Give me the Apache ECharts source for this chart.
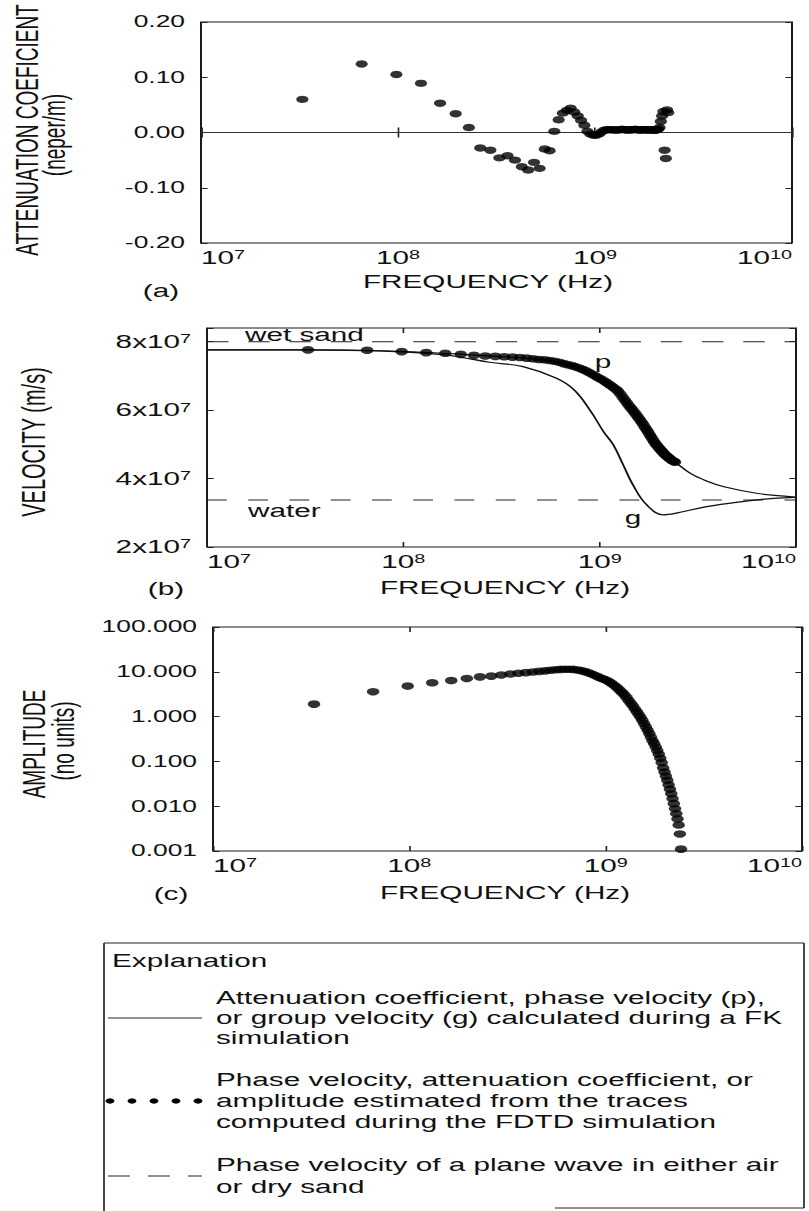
<!DOCTYPE html>
<html>
<head>
<meta charset="utf-8">
<script src="https://cdn.jsdelivr.net/npm/echarts@6/dist/echarts.min.js"></script>
<style>
html,body{margin:0;padding:0;background:#fff;overflow:hidden;}
#wrap{width:809px;height:1211px;overflow:hidden;position:relative;background:#fff;}
#chart{position:absolute;left:0;top:0;height:1211px;transform-origin:0 0;}
</style>
</head>
<body>
<div id="wrap"><div id="chart"></div></div>
<script>
// ---------------- data ----------------
// FDTD sample frequencies (MHz)
const freqMHz = [
  32.7, 65.4, 98.1, 130.8, 163.5, 196.2, 228.9, 261.6, 294.3, 327.0,
  359.7, 392.4, 425.1, 457.8, 490.5, 523.2, 555.9, 588.6, 621.3, 654.0,
  686.7, 719.4, 752.1, 784.8, 817.5, 850.2, 882.9, 915.6, 948.3, 981.0,
  1013.7, 1046.4, 1079.1, 1111.8, 1144.5, 1177.2, 1209.9, 1242.6, 1275.3, 1308.0,
  1340.7, 1373.4, 1406.1, 1438.8, 1471.5, 1504.2, 1536.9, 1569.6, 1602.3, 1635.0,
  1667.7, 1700.4, 1733.1, 1765.8, 1798.5, 1831.2, 1863.9, 1896.6, 1929.3, 1962.0,
  1994.7, 2027.4, 2060.1, 2092.8, 2125.5, 2158.2, 2190.9, 2223.6, 2256.3, 2289.0,
  2321.7, 2354.4, 2387.1, 2419.8
];
// (a) attenuation coefficient estimated from FDTD traces (neper/m)
const attenuationFDTD = [
  0.060, 0.124, 0.105, 0.089, 0.053, 0.034, 0.009, -0.028, -0.032, -0.046,
  -0.042, -0.050, -0.062, -0.068, -0.054, -0.065, -0.030, -0.033, 0.002, 0.023,
  0.035, 0.040, 0.044, 0.037, 0.030, 0.022, 0.013, 0.002, -0.003, -0.005,
  -0.005, -0.003, 0.001, 0.004, 0.005, 0.005, 0.005, 0.005, 0.004, 0.005,
  0.005, 0.006, 0.005, 0.005, 0.004, 0.005, 0.005, 0.005, 0.006, 0.005,
  0.005, 0.004, 0.005, 0.005, 0.005, 0.005, 0.004, 0.005, 0.005, 0.005,
  0.004, 0.004, 0.005, 0.006, 0.009, 0.020, 0.030, 0.038, -0.032, -0.047,
  0.041, 0.036, null, null
];
// (a) FK attenuation coefficient
const fkAttFreqMHz = [10, 10000];
const fkAttValue = [0, 0];
// (b) phase velocity from FDTD traces (x10^7 m/s)
const phaseVelFDTD = [
  7.76, 7.75, 7.71, 7.68, 7.66, 7.63, 7.60, 7.58, 7.57, 7.56,
  7.55, 7.54, 7.52, 7.50, 7.48, 7.47, 7.45, 7.43, 7.40, 7.36,
  7.33, 7.30, 7.27, 7.23, 7.19, 7.15, 7.10, 7.05, 7.00, 6.95,
  6.91, 6.86, 6.81, 6.76, 6.71, 6.66, 6.61, 6.55, 6.47, 6.38,
  6.30, 6.22, 6.14, 6.07, 6.00, 5.93, 5.86, 5.79, 5.72, 5.65,
  5.58, 5.50, 5.43, 5.36, 5.28, 5.21, 5.14, 5.07, 5.01, 4.96,
  4.91, 4.86, 4.82, 4.77, 4.73, 4.69, 4.66, 4.63, 4.60, 4.57,
  4.54, 4.52, 4.50, 4.48
];
// (b) FK phase velocity p (x10^7 m/s)
const fkPhaseFreqMHz = [10, 30, 60, 100, 150, 200, 300, 400, 500, 600, 700, 800, 900, 1000, 1200, 1400, 1600, 1800, 2000, 2200, 2420, 2900, 3500, 4300, 6300, 9300, 10000];
const fkPhaseVel = [7.76, 7.76, 7.75, 7.71, 7.67, 7.63, 7.57, 7.53, 7.49, 7.42, 7.33, 7.22, 7.08, 6.92, 6.61, 6.15, 5.72, 5.28, 4.91, 4.66, 4.48, 4.15, 3.93, 3.76, 3.57, 3.47, 3.45];
// (b) FK group velocity g (x10^7 m/s)
const fkGroupFreqMHz = [10, 32, 63, 100, 158, 190, 275, 407, 603, 741, 902, 1047, 1175, 1318, 1479, 1738, 2113, 2455, 3508, 5200, 7674, 10000];
const fkGroupVel = [7.76, 7.76, 7.74, 7.70, 7.62, 7.56, 7.40, 7.27, 6.93, 6.59, 5.96, 5.37, 4.98, 4.40, 3.81, 3.23, 2.94, 2.99, 3.18, 3.32, 3.42, 3.45];
// (b) plane-wave velocities (x10^7 m/s)
const wetSandVel = 8.0;
const waterVel = 3.37;
// (c) amplitude from FDTD traces (no units)
const amplitudeFDTD = [
  1.9, 3.6, 4.8, 5.7, 6.4, 7.1, 7.7, 8.0, 8.5, 8.9,
  9.3, 9.6, 9.9, 10.2, 10.5, 10.8, 11.1, 11.3, 11.4, 11.4,
  11.3, 11.0, 10.6, 10.1, 9.5, 8.9, 8.3, 7.7, 7.2, 6.8,
  6.4, 5.9, 5.4, 4.9, 4.4, 3.9, 3.5, 3.1, 2.7, 2.3,
  2.0, 1.75, 1.5, 1.3, 1.12, 0.97, 0.83, 0.70, 0.59, 0.50,
  0.42, 0.35, 0.29, 0.25, 0.21, 0.175, 0.145, 0.118, 0.094, 0.072,
  0.058, 0.047, 0.038, 0.030, 0.024, 0.019, 0.0148, 0.0114, 0.0088, 0.0068,
  0.0052, 0.0038, 0.0024, 0.0011
];
// axis ranges / ticks
const freqRangeHz = [1e7, 1e10];
const attTicks = [-0.2, -0.1, 0, 0.1, 0.2];
const velTicks = [2e7, 4e7, 6e7, 8e7];
const ampRange = [0.001, 100];

// ---------------- layout ----------------
const S = 1.65;               // horizontal stretch of the scanned figure
const X = v => v / S;
const fam = "'Liberation Sans', Arial, Helvetica, sans-serif";
const ink = '#111';

const el = document.getElementById('chart');
el.style.width = (809 / S) + 'px';
el.style.transform = 'scaleX(' + S + ')';
const chart = echarts.init(el, null, { renderer: 'svg' });

function pairs(xs, ys, xk, yk) {
  const out = [];
  for (let i = 0; i < xs.length; i++) {
    if (ys[i] == null) continue;
    out.push([xs[i] * xk, ys[i] * yk]);
  }
  return out;
}

const rich = {
  b: { fontSize: 18, fontFamily: fam, color: ink, lineHeight: 18, verticalAlign: 'bottom', padding: [6, 0, 0, 0] },
  s: { fontSize: 12, fontFamily: fam, color: ink, lineHeight: 12, verticalAlign: 'top' }
};

const gridBoxes = [
  { left: X(201), top: 22, width: X(792 - 201), height: 221 },
  { left: X(207), top: 328, width: X(796 - 207), height: 219 },
  { left: X(213), top: 627, width: X(802 - 213), height: 224 }
];
const grids = gridBoxes.map(g => Object.assign({
  show: true, borderColor: '#1a1a1a', borderWidth: 1.2, backgroundColor: 'transparent',
  containLabel: false, outerBoundsMode: 'none'
}, g));

function xAxes(gi) {
  const base = {
    type: 'log', logBase: 10, min: freqRangeHz[0], max: freqRangeHz[1], gridIndex: gi,
    axisLine: { show: false }, splitLine: { show: false }, minorTick: { show: false },
    axisTick: { show: true, inside: true, length: 5, lineStyle: { color: '#222', width: 1 } }
  };
  return [
    Object.assign({}, base, {
      position: 'bottom',
      axisLabel: {
        show: true, margin: 6, alignMinLabel: 'left', alignMaxLabel: 'right',
        formatter: v => '{b|10}{s|' + Math.round(Math.log10(v)) + '}', rich
      }
    }),
    Object.assign({}, base, { position: 'top', axisLabel: { show: false } })
  ];
}

function yPair(gi, cfg, labelCfg) {
  const base = Object.assign({
    gridIndex: gi, axisLine: { show: false }, splitLine: { show: false }, minorTick: { show: false },
    axisTick: { show: true, inside: true, length: 4, lineStyle: { color: '#222', width: 1 } }
  }, cfg);
  return [
    Object.assign({}, base, { position: 'left', axisLabel: Object.assign({ show: true, margin: X(16), color: ink, fontSize: 16, fontFamily: fam }, labelCfg) }),
    Object.assign({}, base, { position: 'right', axisLabel: { show: false } })
  ];
}

const yAxes = [].concat(
  yPair(0, { type: 'value', min: attTicks[0], max: attTicks[attTicks.length - 1], interval: 0.1 },
    { formatter: v => v.toFixed(2) }),
  yPair(1, { type: 'value', min: velTicks[0], max: 8.4e7, interval: 2e7 },
    { formatter: v => {
        const k = v / 1e7;
        if (Math.abs(k - Math.round(k)) > 1e-6 || Math.round(k) % 2) return '';
        return '{b|' + Math.round(k) + 'x10}{s|7}';
      }, rich }),
  yPair(2, { type: 'log', logBase: 10, min: ampRange[0], max: ampRange[1] },
    { formatter: v => Number(v).toFixed(3) })
);

const xAxisList = [].concat(xAxes(0), xAxes(1), xAxes(2));

const dotStyle = { color: '#000' };
const series = [
  // (a)
  { type: 'line', xAxisIndex: 0, yAxisIndex: 0, data: pairs(fkAttFreqMHz, fkAttValue, 1e6, 1),
    symbol: 'none', lineStyle: { color: '#333', width: 1 }, silent: true, z: 2 },
  { type: 'scatter', xAxisIndex: 0, yAxisIndex: 0, data: pairs(freqMHz, attenuationFDTD, 1e6, 1),
    symbol: 'circle', symbolSize: 7.4, itemStyle: dotStyle, silent: true, z: 3 },
  // (b)
  { type: 'line', xAxisIndex: 2, yAxisIndex: 2, data: [[freqRangeHz[0], wetSandVel * 1e7], [freqRangeHz[1], wetSandVel * 1e7]],
    symbol: 'none', lineStyle: { color: '#222', width: 1, type: [13, 12] }, silent: true, z: 2 },
  { type: 'line', xAxisIndex: 2, yAxisIndex: 2, data: [[freqRangeHz[0], waterVel * 1e7], [freqRangeHz[1], waterVel * 1e7]],
    symbol: 'none', lineStyle: { color: '#222', width: 1, type: [12, 13] }, silent: true, z: 2 },
  { type: 'line', xAxisIndex: 2, yAxisIndex: 2, data: pairs(fkPhaseFreqMHz, fkPhaseVel, 1e6, 1e7),
    symbol: 'none', smooth: 0.4, lineStyle: { color: '#111', width: 1.2 }, silent: true, z: 2 },
  { type: 'line', xAxisIndex: 2, yAxisIndex: 2, data: pairs(fkGroupFreqMHz, fkGroupVel, 1e6, 1e7),
    symbol: 'none', smooth: 0.4, lineStyle: { color: '#111', width: 1.2 }, silent: true, z: 2 },
  { type: 'scatter', xAxisIndex: 2, yAxisIndex: 2, data: pairs(freqMHz, phaseVelFDTD, 1e6, 1e7),
    symbol: 'circle', symbolSize: 7.6, itemStyle: dotStyle, silent: true, z: 3 },
  // (c)
  { type: 'scatter', xAxisIndex: 4, yAxisIndex: 4, data: pairs(freqMHz, amplitudeFDTD, 1e6, 1),
    symbol: 'circle', symbolSize: 7.6, itemStyle: dotStyle, silent: true, z: 3 }
];

// ---------------- annotations / legend ----------------
function txt(t, x, y, opt) {
  opt = opt || {};
  return {
    type: 'text', x: X(x), y: y, rotation: opt.rot || 0, silent: true, z: 10,
    style: {
      text: t, fill: ink, font: (opt.size || 18) + 'px ' + fam,
      align: opt.align || 'center', verticalAlign: opt.va || 'middle'
    }
  };
}
function line(x1, y1, x2, y2, dash, w) {
  return { type: 'line', silent: true, z: 10,
    shape: { x1: X(x1), y1: y1, x2: X(x2), y2: y2 },
    style: { stroke: '#222', lineWidth: w || 1, lineDash: dash || null } };
}
function dot(cx, cy) {
  return { type: 'circle', silent: true, z: 10, shape: { cx: X(cx), cy: cy, r: 2.7 }, style: { fill: '#000' } };
}

const R = Math.PI / 2;
const lgLeft = 104, lgTop = 943, lgRight = 804, lgTextX = 216;
const graphics = [
  // axis titles
  txt('ATTENUATION COEFICIENT', 27, 130, { rot: R, size: 19 }),
  txt('(neper/m)', 54, 135, { rot: R, size: 19 }),
  txt('VELOCITY (m/s)', 34, 442, { rot: R, size: 20 }),
  txt('AMPLITUDE', 34, 744, { rot: R, size: 19 }),
  txt('(no units)', 63, 741, { rot: R, size: 19 }),
  // panel captions
  txt('(a)', 161, 291), txt('FREQUENCY (Hz)', 488, 282),
  txt('(b)', 166, 589), txt('FREQUENCY (Hz)', 505, 588),
  txt('(c)', 171, 894), txt('FREQUENCY (Hz)', 505, 893),
  // in-plot labels
  txt('wet sand', 245, 335, { align: 'left' }),
  txt('water', 248, 511, { align: 'left' }),
  txt('p', 603, 362),
  txt('g', 633, 518),
  // legend frame
  line(lgLeft, lgTop, lgRight, lgTop, null, 1),
  line(lgLeft, lgTop, lgLeft, 1211, null, 1),
  line(lgRight, lgTop, lgRight, 1208, null, 1),
  line(555, 1208, lgRight, 1208, null, 1),
  // legend text
  txt('Explanation', 112, 961, { align: 'left' }),
  txt('Attenuation coefficient, phase velocity (p),', lgTextX, 998, { align: 'left' }),
  txt('or group velocity (g) calculated during a FK', lgTextX, 1018, { align: 'left' }),
  txt('simulation', lgTextX, 1038, { align: 'left' }),
  txt('Phase velocity, attenuation coefficient, or', lgTextX, 1080, { align: 'left' }),
  txt('amplitude estimated from the traces', lgTextX, 1101, { align: 'left' }),
  txt('computed during the FDTD simulation', lgTextX, 1122, { align: 'left' }),
  txt('Phase velocity of a plane wave in either air', lgTextX, 1165, { align: 'left' }),
  txt('or dry sand', lgTextX, 1187, { align: 'left' }),
  // legend samples
  line(108, 1018, 202, 1018, null, 1),
  dot(110, 1101), dot(132, 1101), dot(154, 1101), dot(176, 1101), dot(198, 1101),
  line(108, 1176, 202, 1176, [X(22), X(18)], 1)
];

chart.setOption({
  animation: false,
  backgroundColor: '#fff',
  grid: grids,
  xAxis: xAxisList,
  yAxis: yAxes,
  series: series,
  graphic: graphics
});
</script>
</body>
</html>
